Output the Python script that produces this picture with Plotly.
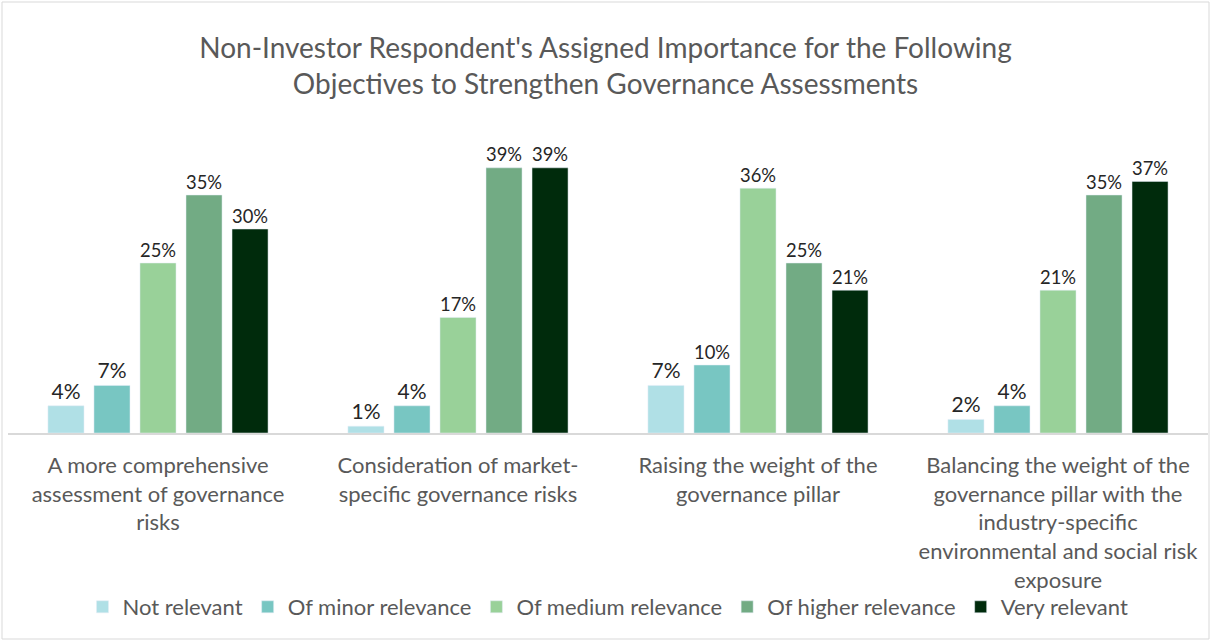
import plotly.graph_objects as go

categories = [
    "A more comprehensive<br>assessment of governance<br>risks",
    "Consideration of market-<br>specific governance risks",
    "Raising the weight of the<br>governance pillar",
    "Balancing the weight of the<br>governance pillar with the<br>industry-specific<br>environmental and social risk<br>exposure",
]
series_names = ["Not relevant", "Of minor relevance", "Of medium relevance",
                "Of higher relevance", "Very relevant"]
not_relevant = [4, 1, 7, 2]
minor_relevance = [7, 4, 10, 4]
medium_relevance = [25, 17, 36, 21]
higher_relevance = [35, 39, 25, 35]
very_relevant = [30, 39, 21, 37]
colors = ["#B0E0E6", "#78C6C2", "#99D199", "#72AB84", "#002B0C"]

series_values = [not_relevant, minor_relevance, medium_relevance,
                 higher_relevance, very_relevant]

FONT = "Lato"
fig = go.Figure()
for name, vals, col in zip(series_names, series_values, colors):
    fig.add_trace(go.Bar(
        name=name, x=categories, y=vals, marker_color=col,
        text=[f"{v}%" for v in vals], textposition="outside",
        textfont=dict(family=FONT, size=21, color="#262626"),
        cliponaxis=False,
    ))

W, H = 1211, 641
ml, mr, mt, mb = 8, 3, 127, 208
pw = W - ml - mr
ph = H - mt - mb
fig.update_layout(
    width=W, height=H,
    margin=dict(l=ml, r=mr, t=mt, b=mb, autoexpand=False),
    paper_bgcolor="white", plot_bgcolor="white",
    barmode="group", bargap=0.233, bargroupgap=0.217,
    font=dict(family=FONT, color="#595959"),
    title=dict(
        text="Non-Investor Respondent's Assigned Importance for the Following<br>Objectives to Strengthen Governance Assessments",
        x=0.5, xanchor="center", y=1 - 57.5 / H, yanchor="middle",
        font=dict(family=FONT, size=28, color="#595959"),
    ),
    legend=dict(orientation="h", x=0.5, xanchor="center",
                yref="container", y=1 - 607 / H, yanchor="middle",
                bgcolor="rgba(0,0,0,0)",
                font=dict(family=FONT, size=22, color="#595959"),
                itemwidth=30, tracegroupgap=0, traceorder="normal"),
    xaxis=dict(showline=True, linecolor="#D9D9D9", linewidth=1.5,
               ticks="outside", ticklen=12, tickcolor="rgba(0,0,0,0)",
               tickfont=dict(family=FONT, size=22, color="#595959"),
               automargin=False, fixedrange=True),
    yaxis=dict(range=[0, 45], visible=False, showgrid=False, fixedrange=True,
               automargin=False),
    showlegend=True,
)

def px_x(x):
    return (x - ml) / pw

def px_y(y):
    return (H - mb - y) / ph

fig.add_shape(type="rect", xref="paper", yref="paper",
              x0=px_x(2), x1=px_x(W - 2), y0=px_y(H - 2), y1=px_y(2),
              line=dict(color="#D9D9D9", width=1), fillcolor="rgba(0,0,0,0)",
              layer="below")
fig.write_html("out.html")
